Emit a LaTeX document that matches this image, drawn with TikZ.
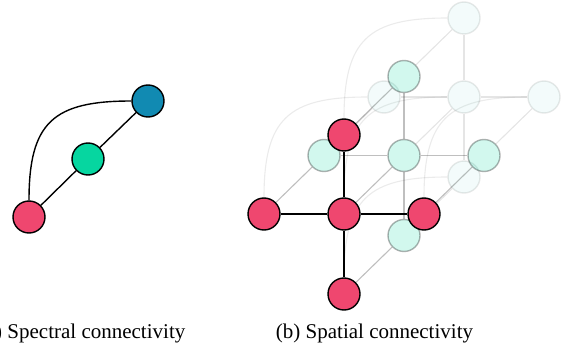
\documentclass[tikz,border=0pt]{standalone}
\usepackage{fontspec}
\setmainfont{Liberation Serif}
\definecolor{pinkc}{HTML}{EF476F}
\definecolor{greenc}{HTML}{06D6A0}
\definecolor{bluec}{HTML}{118AB2}
\pgfdeclarelayer{bga}
\pgfdeclarelayer{bgb}
\pgfdeclarelayer{bgc}
\pgfdeclarelayer{bgd}
\pgfsetlayers{bga,bgb,bgc,bgd,main}
\tikzset{
 nd/.style={circle, minimum size=32pt, inner sep=0pt, line width=1.4pt, draw=black},
 pinknd/.style={nd, fill=pinkc},
 greennd/.style={nd, fill=greenc, fill opacity=0.18, draw opacity=0.3},
 bluend/.style={nd, fill=bluec},
 palend/.style={nd, fill=bluec!40!greenc, fill opacity=0.05, draw opacity=0.09},
 ezero/.style={line width=1.4pt, draw=black},
 eone/.style={line width=1.1pt, draw=black, draw opacity=0.25},
 etwo/.style={line width=1.1pt, draw=black, draw opacity=0.1},
 arcedge/.style={line width=1.1pt, draw=black, draw opacity=0.08},
 captext/.style={font=\fontsize{21}{25}\selectfont, inner sep=0pt},
}
\begin{document}
\begin{tikzpicture}[x=1pt,y=1pt]
\useasboundingbox (0,0) rectangle (565,354);
% left graph
\node[pinknd] (lp) at (29,137) {};
\node[greennd, fill opacity=1, draw opacity=1] (lg) at (88,195) {};
\node[bluend] (lb) at (148,253) {};
\begin{pgfonlayer}{bgd}
\draw[ezero] (lp) -- (lg) -- (lb);
\draw[ezero] (lp.north) to[out=90,in=180,looseness=1.4] (lb.west);
\end{pgfonlayer}
% right lattice
\foreach \n/\dx/\dy in {c/0/0,l/-80/0,r/80/0,t/0/79,b/0/-80}{
  \node[pinknd] (p\n) at (344+\dx,140+\dy) {};
  \begin{pgfonlayer}{bgd}
    \node[greennd] (g\n) at (404+\dx,198.5+\dy) {};
  \end{pgfonlayer}
  \begin{pgfonlayer}{bgb}
    \node[palend] (q\n) at (464+\dx,257+\dy) {};
  \end{pgfonlayer}
}
\foreach \n in {l,r,t,b}{
  \draw[ezero] (pc) -- (p\n);
  \begin{pgfonlayer}{bgc}
    \draw[eone] (gc) -- (g\n);
  \end{pgfonlayer}
  \begin{pgfonlayer}{bga}
    \draw[etwo] (qc) -- (q\n);
  \end{pgfonlayer}
}
\foreach \n in {c,l,r,t,b}{
  \begin{pgfonlayer}{bgc}
    \draw[eone] (p\n) -- (g\n);
  \end{pgfonlayer}
  \begin{pgfonlayer}{bga}
    \draw[etwo] (g\n) -- (q\n);
    \draw[arcedge] (p\n.north) to[out=90,in=180,looseness=1.4] (q\n.west);
  \end{pgfonlayer}
}
% captions
\node[captext, anchor=base east] (capa) at (185.5,16) {(a) Spectral connectivity};
\node[captext, anchor=base] (capb) at (374.5,16) {(b) Spatial connectivity};
\end{tikzpicture}
\end{document}
